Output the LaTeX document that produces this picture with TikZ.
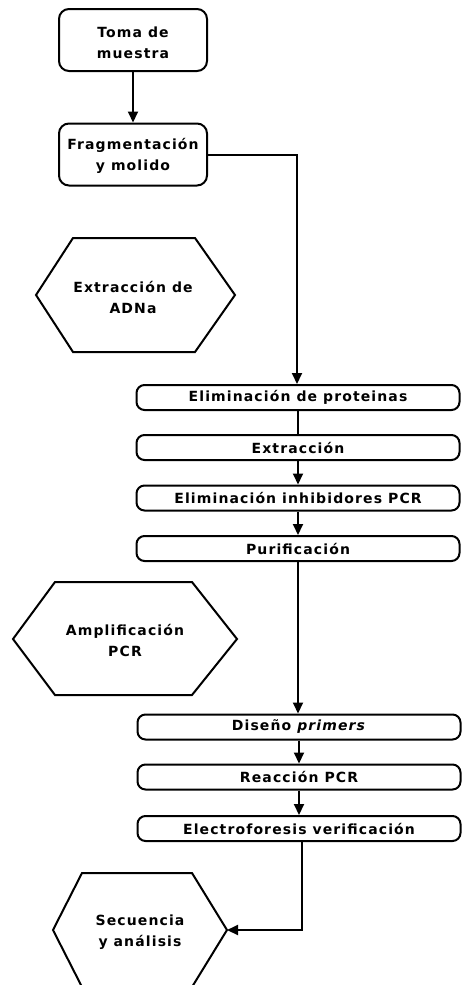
\documentclass[tikz,border=0pt]{standalone}
\usepackage{fontspec}
\setmainfont{DejaVu Sans}[LetterSpace=8]
\usetikzlibrary{arrows.meta}
\begin{document}
\begin{tikzpicture}[x=1pt,y=-1pt,
  line width=2pt,
  font=\fontsize{14}{21}\selectfont\bfseries,
  startbox/.style={draw,rounded corners=10pt,minimum width=148pt,minimum height=62pt,inner sep=0pt},
  procbox/.style={draw,rounded corners=8pt,minimum width=323pt,minimum height=25pt,inner sep=0pt},
  hexlabel/.style={align=center,inner sep=0pt},
  arr/.style={-{Triangle[width=10pt,length=11pt]}},
  plain/.style={-}
]
\useasboundingbox (0,0) rectangle (462,985);

% start boxes
\node[startbox] (toma) at (133,40) {};
\node[hexlabel] (tomaT) at (133,42.5) {Toma de\\muestra};
\node[startbox] (frag) at (133,154.5) {};
\node[hexlabel] (fragT) at (133,156) {Fragmentación\\y molido};

% hexagon 1
\draw (36,295) -- (73,238) -- (195,238) -- (235,295) -- (195,352) -- (73,352) -- cycle;
\node[hexlabel] (hexA) at (133,297) {Extracción de\\ADNa};

% process boxes group 1
\node[procbox] (p1) at (298,397.5) {Eliminación de proteinas};
\node[procbox] (p2) at (298,447.5) {Extracción};
\node[procbox] (p3) at (298,498) {Eliminación inhibidores PCR};
\node[procbox] (p4) at (298,548.5) {Purificación};

% hexagon 2
\draw (13,639) -- (55,582) -- (192,582) -- (237,639) -- (192,695) -- (55,695) -- cycle;
\node[hexlabel] (hexB) at (125,640) {Amplificación\\PCR};

% process boxes group 2
\node[procbox] (q1) at (299,727) {Diseño \textit{primers}};
\node[procbox] (q2) at (299,777) {Reacción PCR};
\node[procbox] (q3) at (299,828.5) {Electroforesis verificación};

% hexagon 3
\draw (53,930) -- (82,873) -- (192,873) -- (227,930) -- (192,987) -- (82,987) -- cycle;
\node[hexlabel] (hexC) at (140,932) {Secuencia\\y análisis};
\coordinate (hexCe) at (227,930);

% connectors
\draw[arr] (toma) -- (frag);
\draw[arr] (frag.east |- 0,155) -| (p1.north -| 297,0);
\draw[plain] (p1) -- (p2);
\draw[arr] (p2) -- (p3);
\draw[arr] (p3) -- (p4);
\draw[arr] (p4) -- (q1.north -| p4.south);
\draw[arr] (q1) -- (q2);
\draw[arr] (q2) -- (q3);
\draw[arr] (q3.south -| 302,0) |- (hexCe);
\end{tikzpicture}
\end{document}
